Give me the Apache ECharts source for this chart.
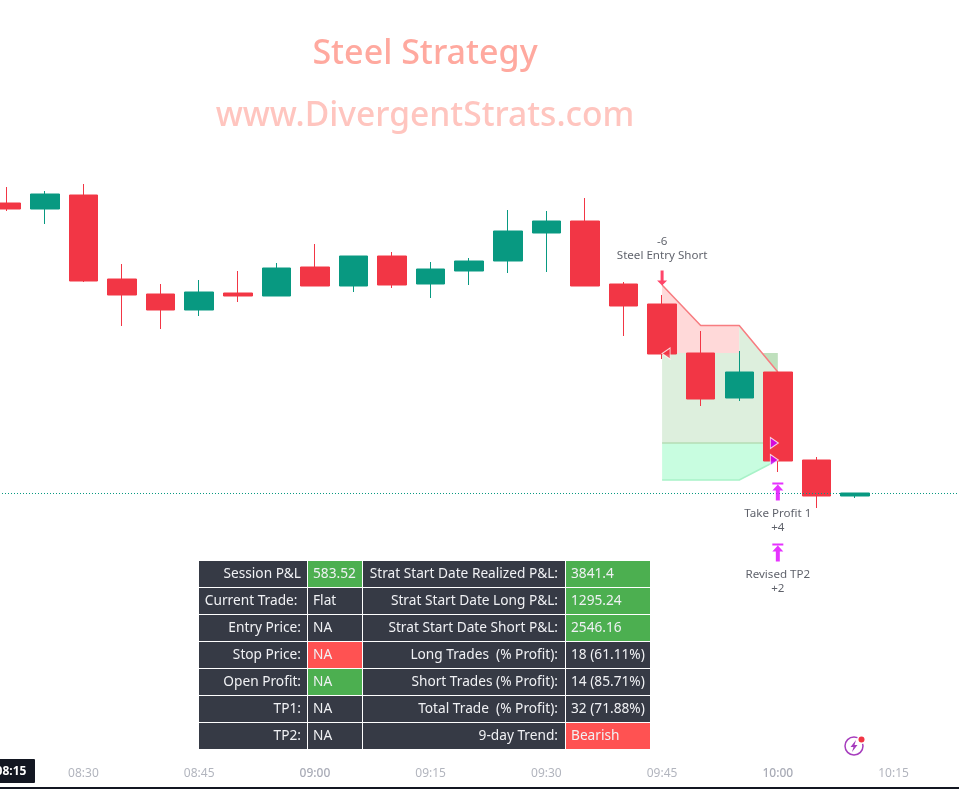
<!DOCTYPE html>
<html><head><meta charset="utf-8"><style>html,body{margin:0;padding:0;background:#fff}#c{width:959px;height:789px}</style>
<script src="https://cdn.jsdelivr.net/npm/echarts@6/dist/echarts.min.js"></script></head>
<body><div id="c"></div>
<script>
const times=['08:20','08:25','08:30','08:35','08:40','08:45','08:50','08:55','09:00','09:05','09:10','09:15','09:20','09:25','09:30','09:35','09:40','09:45','09:50','09:55','10:00','10:05','10:10','10:15','10:20','10:25'];
// open, close, low, high
const candles=[
[1278.5,1275.5,1274.5,1286.5],[1275.5,1283,1268,1284.5],[1282.5,1239.5,1239,1288],[1240.5,1232.5,1217,1248],
[1233,1225,1215.5,1238],[1225,1234,1222,1240],[1233.5,1232,1229,1244.5],[1232,1246,1232,1248.5],
[1246.5,1237,1237,1258],[1237,1252,1234,1252],[1252,1237.5,1236,1254],[1238,1245.5,1231,1249],
[1244.5,1249.5,1237.5,1251],[1249.5,1264.5,1243.5,1275],[1263.5,1269.5,1244,1274.5],[1269.5,1237,1237,1281],
[1238,1227,1212,1239],[1228,1203,1200.5,1232.5],[1203.5,1180.5,1177,1214.5],[1181,1194,1179.5,1204.5],
[1194,1149.5,1144,1194],[1150,1132,1126,1151.5],[1132,1133.5,1131,1133.5]];
const lastPrice=1133.25;
const stopLine=[[17,1237.5],[18,1217.25],[19,1217.25],[20,1194]];
const tp1Line=[[17,1158.5],[20,1158.5]];
const tp2Line=[[17,1140],[19,1140],[20,1150]];
const pinkZone=[[17,1237.5],[18,1217.25],[19,1217.25],[19,1203.5],[17,1203.5]];
const darkZone=[[19,1203.5],[20,1203.5],[20,1194]];
const greenZone=[[17,1203.5],[19,1203.5],[19,1217.25],[20,1194],[20,1158.5],[17,1158.5]];
const mintZone=[[17,1158.5],[20,1158.5],[20,1150],[19,1140],[17,1140]];
const tableLeft=['Session P&L','Current Trade: ','Entry Price:','Stop Price:','Open Profit:','TP1:','TP2:'];
const tableVal1=['583.52','Flat','NA','NA','NA','NA','NA'];
const tableMid=['Strat Start Date Realized P&L:','Strat Start Date Long P&L:','Strat Start Date Short P&L:','Long Trades  (% Profit):','Short Trades (% Profit):','Total Trade  (% Profit):','9-day Trend:'];
const tableVal2=['3841.4','1295.24','2546.16','18 (61.11%)','14 (85.71%)','32 (71.88%)','Bearish'];
const val1Fill=['#4caf50','#363a45','#363a45','#ff5252','#4caf50','#363a45','#363a45'];
const val2Fill=['#4caf50','#4caf50','#4caf50','#363a45','#363a45','#363a45','#ff5252'];

const FONT='"Noto Sans"';
const zones=[{pts:pinkZone,c:'#ffd9d9'},{pts:darkZone,c:'#bfe0bd'},{pts:greenZone,c:'#ddefdd'},{pts:mintZone,c:'#c8fde0'}];
const DARK='#363a45';
const g=[];
const colX=[[199,108],[308,54],[363,202],[566,84]];
const rowY=[561,588,615,642,669,696,723];
const t=(x,y,text,align,extra)=>({type:'text',x,y,silent:true,z:10,style:Object.assign({text,align,verticalAlign:'middle',fill:'#f0f1f4',font:'13.7px '+FONT},extra||{})});
rowY.forEach((y,i)=>{
  const fills=[DARK,val1Fill[i],DARK,val2Fill[i]];
  colX.forEach((c,j)=>g.push({type:'rect',silent:true,z:9,shape:{x:c[0],y,width:c[1],height:26},style:{fill:fills[j]}}));
  g.push(t(301,y+13,tableLeft[i],'right'),t(313,y+13,tableVal1[i],'left'),t(558,y+13,tableMid[i],'right'),t(571,y+13,tableVal2[i],'left'));
});
g.push({type:'text',x:425,y:54,z:10,silent:true,style:{text:'Steel Strategy',align:'center',verticalAlign:'middle',fill:'#ffa99f',font:'500 34px '+FONT}});
g.push({type:'text',x:425,y:116,z:10,silent:true,style:{text:'www.DivergentStrats.com',align:'center',verticalAlign:'middle',fill:'#ffc5bf',font:'500 33.6px '+FONT}});
g.push({type:'rect',silent:true,z:9,shape:{x:0,y:787,width:959,height:2},style:{fill:'#131722'}});
g.push({type:'rect',silent:true,z:9,shape:{x:-20,y:759,width:55,height:24,r:1},style:{fill:'#131722'}});
g.push({type:'text',x:11,y:771.5,z:10,silent:true,style:{text:'08:15',align:'center',verticalAlign:'middle',fill:'#ffffff',font:'bold 12px '+FONT}});
g.push({type:'circle',silent:true,z:9,shape:{cx:854,cy:746,r:9},style:{fill:'#fff',stroke:'#a63dbd',lineWidth:1.5}});
g.push({type:'polygon',silent:true,z:10,shape:{points:[[856,740],[850.5,747],[853.5,747],[852,752],[857.5,745],[854.5,745]]},style:{fill:'#a63dbd'}});
g.push({type:'circle',silent:true,z:10,shape:{cx:861.5,cy:739.5,r:4.5},style:{fill:'#fff'}});
g.push({type:'circle',silent:true,z:11,shape:{cx:861.5,cy:739.5,r:3},style:{fill:'#f23645'}});

const lineS=(data,color,w)=>({type:'line',data,symbol:'none',z:1,silent:true,animation:false,lineStyle:{color,width:w}});
const ARROW_DOWN='path://M3.5,0 H6.5 V10 H10 L5,15 L0,10 H3.5 Z';
const ARROW_UP_BAR='path://M0,0 H11 V2 H0 Z M5.5,2 L11,8 H7.5 V18 H3.5 V8 H0 Z';
const labelText={color:'#363a45',fontSize:11.6,fontFamily:FONT,lineHeight:14};
const option={
 animation:false,
 grid:{left:-13,top:0,width:1003,height:760,outerBoundsMode:'none'},
 xAxis:{type:'category',data:times,boundaryGap:true,axisLine:{show:false},axisTick:{show:false},splitLine:{show:false},
   axisLabel:{margin:8,interval:(i,v)=>Number(v.slice(3))%15===0,
     formatter:v=>v.endsWith(':00')?'{b|'+v+'}':'{n|'+v+'}',
     rich:{n:{color:'#b2b5be',fontSize:12,fontFamily:FONT},b:{color:'#a8abb6',fontSize:12,fontWeight:500,fontFamily:FONT}}}},
 yAxis:{type:'value',min:1000,max:1380,show:false,splitLine:{show:false}},
 graphic:{elements:g},
 series:[
  {type:'custom',z:1,silent:true,data:zones.map((z,i)=>[i,1100]),encode:{x:0,y:1},
   renderItem:(p,api)=>{const z=zones[api.value(0)];return {type:'polygon',shape:{points:z.pts.map(q=>api.coord(q))},style:{fill:z.c}};}},
  lineS(tp1Line,'#b5dcb5',1.5),lineS(tp2Line,'#a8f2c8',1.5),lineS(stopLine,'#f77c80',1.5),
  {type:'candlestick',z:2,silent:true,data:candles,barWidth:29,
   itemStyle:{color:'#089981',color0:'#f23645',borderColor:'#089981',borderColor0:'#f23645',borderWidth:1},
   markLine:{silent:true,symbol:'none',label:{show:false},animation:false,data:[{yAxis:lastPrice}],lineStyle:{color:'#089981',type:[1,2],width:1,opacity:1}}},
  {type:'scatter',z:5,silent:true,symbol:ARROW_DOWN,symbolSize:[10,15],itemStyle:{color:'#ff1744'},
   data:[[17,1241]],label:{show:true,position:'top',distance:8,formatter:'-6\nSteel Entry Short',...labelText}},
  {type:'scatter',z:5,silent:true,symbol:ARROW_UP_BAR,symbolSize:[11,18],itemStyle:{color:'#e000ff'},
   data:[[20,1134.25]],label:{show:true,position:'bottom',distance:6,formatter:'Take Profit 1\n+4',...labelText}},
  {type:'scatter',z:5,silent:true,symbol:ARROW_UP_BAR,symbolSize:[11,18],itemStyle:{color:'#e000ff'},
   data:[[20,1103.75]],label:{show:true,position:'bottom',distance:6,formatter:'Revised TP2\n+2',...labelText}},
  {type:'scatter',z:5,silent:true,symbol:'triangle',symbolRotate:90,symbolSize:[11,8],symbolOffset:[4,0],itemStyle:{color:'#f23645',borderColor:'#fff',borderWidth:1},
   data:[[17,1203.25]]},
  {type:'scatter',z:5,silent:true,symbol:'triangle',symbolRotate:-90,symbolSize:[11,8],symbolOffset:[-3.5,0],itemStyle:{color:'#cc00ff',borderColor:'#fff',borderWidth:1},
   data:[[20,1158.5],[20,1150]]}
 ]
};
const chart=echarts.init(document.getElementById('c'),null,{renderer:'canvas'});
chart.setOption(option);
</script></body></html>
